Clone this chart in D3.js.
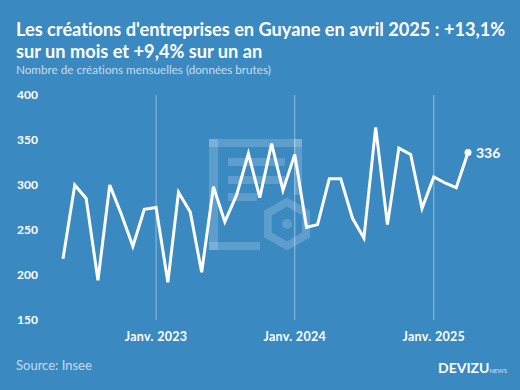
<!DOCTYPE html>
<html>
<head>
<meta charset="utf-8">
<script src="https://cdn.jsdelivr.net/npm/d3@7"></script>
<style>
  body { margin: 0; background: #3b89c1; }
  svg { display: block; font-family: Lato, "Open Sans", sans-serif; font-variant-ligatures: none; font-feature-settings: "liga" 0, "dlig" 0; }
</style>
</head>
<body>
<div id="chart"></div>
<script>
// monthly company creations, Guyane, May 2022 -> April 2025
var months = d3.timeMonth.range(new Date(2022, 4, 1), new Date(2025, 4, 1));
var values = [218, 300, 285, 194, 300, 268, 232, 273, 275,
              192, 292, 270, 203, 298, 259, 289, 335, 286, 346, 294,
              334, 253, 256, 307, 307, 263, 241, 364, 256, 341, 334, 274,
              309, 302, 297, 336];
var yTicks = [150, 200, 250, 300, 350, 400];
var xTicks = [new Date(2023, 0, 1), new Date(2024, 0, 1), new Date(2025, 0, 1)];
var xTickLabels = ["Janv. 2023", "Janv. 2024", "Janv. 2025"];

var data = months.map(function(m, i) { return {date: m, value: values[i]}; });

var width = 520, height = 390;
var svg = d3.select("#chart").append("svg")
    .attr("width", width)
    .attr("height", height);

svg.append("rect")
    .attr("width", width)
    .attr("height", height)
    .attr("fill", "#3b89c1");

var x = d3.scaleTime()
    .domain([months[0], months[months.length - 1]])
    .range([63, 468]);
var y = d3.scaleLinear()
    .domain([150, 400])
    .range([320, 95]);

// watermark logo
var wm = svg.append("g").attr("fill", "rgba(255,255,255,0.18)");
wm.append("rect").attr("x", 209).attr("y", 139).attr("width", 93).attr("height", 8);
wm.append("rect").attr("x", 209).attr("y", 139).attr("width", 9).attr("height", 111);
wm.append("rect").attr("x", 209).attr("y", 242).attr("width", 51).attr("height", 8);
wm.append("rect").attr("x", 294).attr("y", 139).attr("width", 8).attr("height", 56);
wm.append("rect").attr("x", 228).attr("y", 158).attr("width", 57).attr("height", 8);
wm.append("rect").attr("x", 228).attr("y", 176).attr("width", 57).attr("height", 8);
wm.append("rect").attr("x", 228).attr("y", 193).attr("width", 29).attr("height", 8);
var hex = d3.range(6).map(function(k) {
  var a = Math.PI / 3 * k + Math.PI / 6;
  return [287 + 22 * Math.cos(a), 224 + 22 * Math.sin(a)];
});
wm.append("path")
    .attr("d", "M" + hex.join("L") + "Z")
    .attr("fill", "none")
    .attr("stroke", "rgba(255,255,255,0.18)")
    .attr("stroke-width", 8);
wm.append("circle").attr("cx", 287).attr("cy", 224).attr("r", 5);

// vertical grid lines at January
svg.append("g").selectAll("line")
    .data(xTicks)
    .enter().append("line")
    .attr("x1", function(d) { return x(d); })
    .attr("x2", function(d) { return x(d); })
    .attr("y1", y(400))
    .attr("y2", y(150))
    .attr("stroke", "rgba(255,255,255,0.45)")
    .attr("stroke-width", 1);

// y labels
svg.append("g").selectAll("text")
    .data(yTicks)
    .enter().append("text")
    .attr("x", 17)
    .attr("y", function(d) { return y(d); })
    .attr("dy", "0.35em")
    .attr("fill", "#fff")
    .attr("font-size", 12)
    .attr("font-weight", "bold")
    .text(function(d) { return d; });

// x labels
svg.append("g").selectAll("text")
    .data(xTicks)
    .enter().append("text")
    .attr("x", function(d) { return x(d); })
    .attr("y", 341)
    .attr("text-anchor", "middle")
    .attr("fill", "#fff")
    .attr("font-size", 12.5)
    .attr("font-weight", "bold")
    .attr("letter-spacing", 0.3)
    .text(function(d, i) { return xTickLabels[i]; });

var line = d3.line()
    .x(function(d) { return x(d.date); })
    .y(function(d) { return y(d.value); });

svg.append("path")
    .datum(data)
    .attr("d", line)
    .attr("fill", "none")
    .attr("stroke", "#fff")
    .attr("stroke-width", 3)
    .attr("stroke-linejoin", "miter");

var last = data[data.length - 1];
svg.append("circle")
    .attr("cx", x(last.date))
    .attr("cy", y(last.value))
    .attr("r", 3.5)
    .attr("fill", "#fff");
svg.append("text")
    .attr("x", x(last.date) + 8)
    .attr("y", y(last.value))
    .attr("dy", "0.35em")
    .attr("fill", "#fff")
    .attr("font-size", 14)
    .attr("font-weight", "bold")
    .text(last.value);

// titles
svg.append("text")
    .attr("x", 16).attr("y", 36)
    .attr("fill", "#fff")
    .attr("font-size", 18.2)
    .attr("font-weight", "bold")
    .text("Les créations d'entreprises en Guyane en avril 2025 : +13,1%");
svg.append("text")
    .attr("x", 16).attr("y", 58)
    .attr("fill", "#fff")
    .attr("font-size", 18.2)
    .attr("font-weight", "bold")
    .text("sur un mois et +9,4% sur un an");
svg.append("text")
    .attr("x", 16).attr("y", 74)
    .attr("fill", "rgba(255,255,255,0.72)")
    .attr("font-size", 11.7)
    .text("Nombre de créations mensuelles (données brutes)");

svg.append("text")
    .attr("x", 16).attr("y", 370)
    .attr("fill", "rgba(255,255,255,0.72)")
    .attr("font-size", 13)
    .text("Source: Insee");

var logo = svg.append("text")
    .attr("x", 438).attr("y", 373)
    .attr("fill", "#fff")
    .attr("font-weight", "bold");
logo.append("tspan").attr("font-size", 14).text("DEVIZU");
logo.append("tspan").attr("font-size", 6).attr("font-weight", "normal")
    .attr("fill", "rgba(255,255,255,0.8)").text("NEWS");
</script>
</body>
</html>
